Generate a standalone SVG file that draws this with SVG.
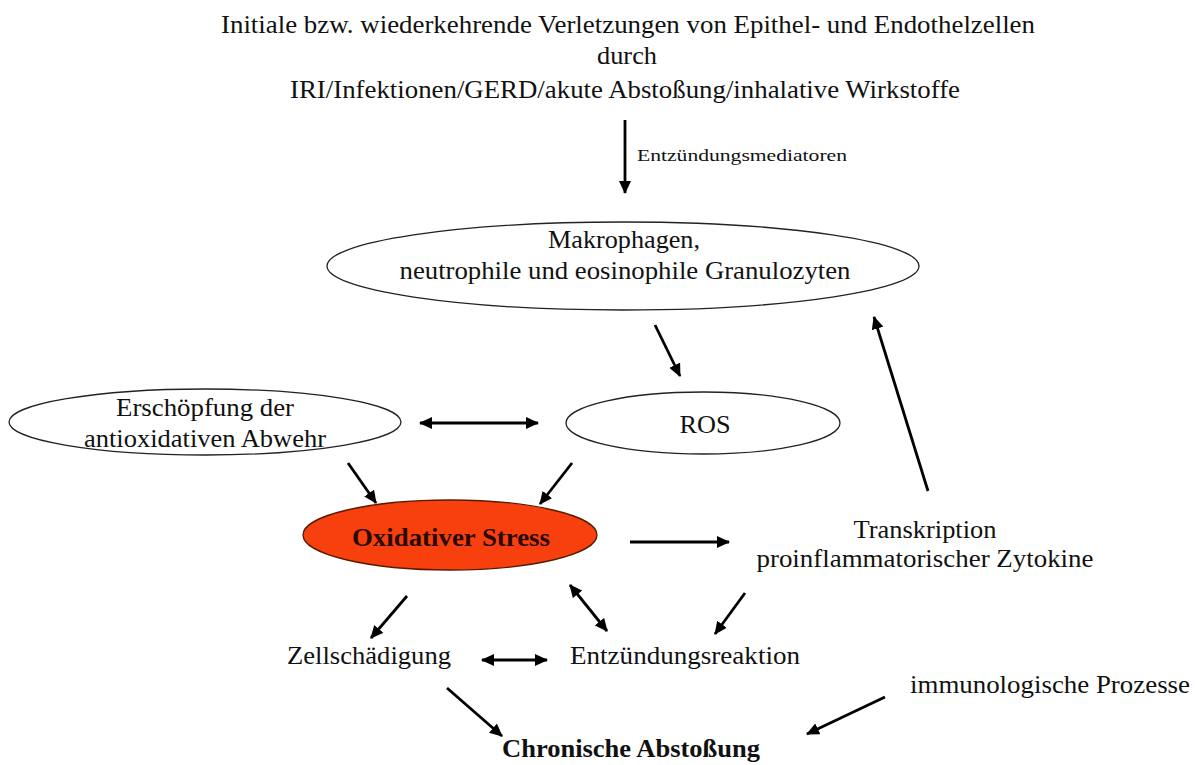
<svg xmlns="http://www.w3.org/2000/svg" width="1196" height="765" viewBox="0 0 1196 765" font-family="'Liberation Serif', 'Times New Roman', Times, serif">
<defs>
<style>
text{font-family:'Liberation Serif','Times New Roman',Times,serif;fill:#111;text-anchor:middle}
.t{font-size:25px}
.s{font-size:16px;text-anchor:start}
.b{font-weight:bold}
.e{fill:#fff;stroke:#222;stroke-width:1.3}
.c{stroke:#000;stroke-width:2.8;fill:none}
</style>
<marker id="ah" markerUnits="userSpaceOnUse" markerWidth="14" markerHeight="12" refX="12" refY="6" orient="auto-start-reverse">
<path d="M0,0 L13,6 L0,12 Z" fill="#000"/>
</marker>
</defs>
<rect width="1196" height="765" fill="#fff"/>

<g id="top">
<text class="t" x="628" y="33" textLength="814" lengthAdjust="spacingAndGlyphs">Initiale bzw. wiederkehrende Verletzungen von Epithel- und Endothelzellen</text>
<text class="t" x="627" y="64" textLength="60" lengthAdjust="spacingAndGlyphs">durch</text>
<text class="t" x="625" y="98" textLength="670" lengthAdjust="spacingAndGlyphs">IRI/Infektionen/GERD/akute Abstoßung/inhalative Wirkstoffe</text>
</g>

<g id="makrophagen">
<ellipse class="e" cx="623" cy="266" rx="296" ry="44"/>
<text class="t" x="624" y="248" textLength="152" lengthAdjust="spacingAndGlyphs">Makrophagen,</text>
<text class="t" x="625" y="279" textLength="451" lengthAdjust="spacingAndGlyphs">neutrophile und eosinophile Granulozyten</text>
</g>

<g id="ros">
<ellipse class="e" cx="703" cy="423" rx="137" ry="31"/>
<text class="t" x="705" y="433" textLength="51" lengthAdjust="spacingAndGlyphs">ROS</text>
</g>

<g id="erschoepfung">
<ellipse class="e" cx="205" cy="422" rx="196" ry="33"/>
<text class="t" x="205" y="416" textLength="178" lengthAdjust="spacingAndGlyphs">Erschöpfung der</text>
<text class="t" x="205" y="447" textLength="242" lengthAdjust="spacingAndGlyphs">antioxidativen Abwehr</text>
</g>

<g id="oxidativer-stress">
<ellipse cx="450" cy="535" rx="147" ry="35" fill="#f8400f" stroke="#5a1a00" stroke-width="1.3"/>
<text class="t b" x="451" y="546" textLength="198" lengthAdjust="spacingAndGlyphs" style="fill:#2a0a00">Oxidativer Stress</text>
</g>

<g id="transkription">
<text class="t" x="925" y="538" textLength="143" lengthAdjust="spacingAndGlyphs">Transkription</text>
<text class="t" x="925" y="567" textLength="337" lengthAdjust="spacingAndGlyphs">proinflammatorischer Zytokine</text>
</g>

<g id="zellschaedigung">
<text class="t" x="369" y="664" textLength="164" lengthAdjust="spacingAndGlyphs">Zellschädigung</text>
</g>

<g id="entzuendungsreaktion">
<text class="t" x="685" y="664" textLength="230" lengthAdjust="spacingAndGlyphs">Entzündungsreaktion</text>
</g>

<g id="immunologisch">
<text class="t" x="1050" y="693" textLength="280" lengthAdjust="spacingAndGlyphs">immunologische Prozesse</text>
</g>

<g id="chronisch">
<text class="t b" x="631" y="757" textLength="258" lengthAdjust="spacingAndGlyphs">Chronische Abstoßung</text>
</g>

<g id="connectors">
<line class="c" x1="625" y1="120" x2="625" y2="193" marker-end="url(#ah)"/>
<text class="s" x="637" y="161" textLength="210" lengthAdjust="spacingAndGlyphs">Entzündungsmediatoren</text>
<line class="c" x1="655" y1="325" x2="680" y2="376" marker-end="url(#ah)"/>
<line class="c" x1="420" y1="423" x2="538" y2="423" marker-start="url(#ah)" marker-end="url(#ah)"/>
<line class="c" x1="348" y1="463" x2="376" y2="503" marker-end="url(#ah)"/>
<line class="c" x1="572" y1="463" x2="540" y2="504" marker-end="url(#ah)"/>
<line class="c" x1="630" y1="542" x2="729" y2="542" marker-end="url(#ah)"/>
<line class="c" x1="928" y1="491" x2="874" y2="317" marker-end="url(#ah)"/>
<line class="c" x1="407" y1="596" x2="371" y2="638" marker-end="url(#ah)"/>
<line class="c" x1="570" y1="585" x2="607" y2="631" marker-start="url(#ah)" marker-end="url(#ah)"/>
<line class="c" x1="745" y1="593" x2="715" y2="634" marker-end="url(#ah)"/>
<line class="c" x1="482" y1="660" x2="547" y2="660" marker-start="url(#ah)" marker-end="url(#ah)"/>
<line class="c" x1="447" y1="688" x2="502" y2="736" marker-end="url(#ah)"/>
<line class="c" x1="885" y1="697" x2="807" y2="734" marker-end="url(#ah)"/>
</g>
</svg>
